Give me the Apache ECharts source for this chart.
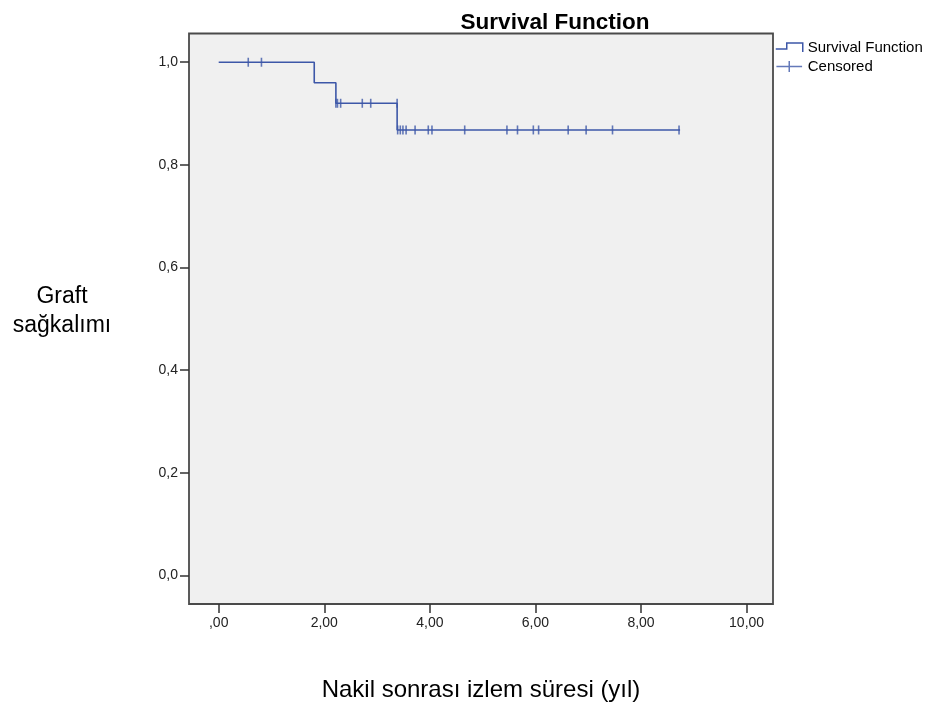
<!DOCTYPE html>
<html>
<head>
<meta charset="utf-8">
<script src="https://cdn.jsdelivr.net/npm/echarts@6/dist/echarts.min.js"></script>
<style>
html,body{margin:0;padding:0;background:#fff;}
#chart{width:929px;height:702px;}
</style>
</head>
<body>
<div id="chart"></div>
<script>
// Kaplan-Meier step points: time (years) and survival level
const stepTimes = [0, 1.81, 2.22, 3.38, 8.74];
const stepLevels = [1.0, 0.96, 0.92, 0.868, 0.868];
// Censored observations
const censoredTimes = [0.56, 0.81, 2.22, 2.25, 2.31, 2.72, 2.88, 3.38,
  3.39, 3.44, 3.49, 3.55, 3.72, 3.97, 4.04, 4.66, 5.46, 5.66, 5.96, 6.06, 6.62, 6.96, 7.46, 8.72];
const censoredLevels = [1.0, 1.0, 0.92, 0.92, 0.92, 0.92, 0.92, 0.92,
  0.868, 0.868, 0.868, 0.868, 0.868, 0.868, 0.868, 0.868, 0.868, 0.868, 0.868, 0.868, 0.868, 0.868, 0.868, 0.868];
const xTicks = [0, 2, 4, 6, 8, 10];
const yTicks = [0, 0.2, 0.4, 0.6, 0.8, 1.0];

const BLUE = '#3d57a8';
const FONT = 'Liberation Sans, Arial, sans-serif';

const chart = echarts.init(document.getElementById('chart'));
const stepData = stepTimes.map((t, i) => [t, stepLevels[i]]);
const censData = censoredTimes.map((t, i) => [t, censoredLevels[i]]);

chart.setOption({
  animation: false,
  backgroundColor: '#ffffff',
  title: {
    text: 'Survival Function',
    left: 550, top: 6, textAlign: 'center',
    textStyle: {fontFamily: FONT, fontSize: 22.5, fontWeight: 'bold', color: '#000'}
  },
  legend: {
    orient: 'vertical', left: 775, top: 40, itemGap: 4, padding: 0,
    itemWidth: 27, itemHeight: 11,
    textStyle: {fontFamily: FONT, fontSize: 15, color: '#000'},
    data: [
      {name: 'Survival Function', icon: 'path://M0,6 L11,6 L11,0 L27,0 L27,9',
       itemStyle: {color: 'transparent', borderColor: BLUE, borderWidth: 1.5}},
      {name: 'Censored', icon: 'path://M0,6 L28,6 M14,0 L14,12',
       itemStyle: {color: 'transparent', borderColor: BLUE, borderWidth: 1.5}}
    ]
  },
  grid: {
    left: 189, top: 33.5, width: 584, height: 570.5,
    show: true, backgroundColor: '#f0f0f0', borderColor: '#4a4a4a', borderWidth: 1.8
  },
  xAxis: {
    type: 'value', min: -0.5625, max: 10.5,
    axisLine: {show: false, onZero: false},
    splitLine: {show: false},
    axisTick: {show: true, customValues: xTicks, length: 9, lineStyle: {color: '#333', width: 1.5}},
    axisLabel: {
      customValues: xTicks, margin: 12,
      fontFamily: FONT, fontSize: 14, color: '#222',
      formatter: v => v === 0 ? ',00' : v.toFixed(2).replace('.', ',')
    }
  },
  yAxis: {
    type: 'value', min: -0.056, max: 1.056,
    axisLine: {show: false, onZero: false},
    splitLine: {show: false},
    axisTick: {show: true, customValues: yTicks, length: 9, lineStyle: {color: '#333', width: 1.5}},
    axisLabel: {
      customValues: yTicks, margin: 11,
      fontFamily: FONT, fontSize: 14, color: '#222',
      formatter: v => v.toFixed(1).replace('.', ',')
    }
  },
  graphic: [
    {type: 'text', x: 62, y: 297,
     style: {text: 'Graft', font: '23px ' + FONT, fill: '#000', align: 'center', verticalAlign: 'middle'}},
    {type: 'text', x: 62, y: 326,
     style: {text: 'sağkalımı', font: '23px ' + FONT, fill: '#000', align: 'center', verticalAlign: 'middle'}},
    {type: 'text', x: 481, y: 690,
     style: {text: 'Nakil sonrası izlem süresi (yıl)', font: '24px ' + FONT, fill: '#000', align: 'center', verticalAlign: 'middle'}}
  ],
  series: [
    {
      name: 'Survival Function', type: 'line', step: 'end',
      data: stepData, showSymbol: false, symbol: 'none',
      lineStyle: {color: BLUE, width: 1.6},
      itemStyle: {color: BLUE}
    },
    {
      name: 'Censored', type: 'scatter',
      data: censData, symbol: 'rect', symbolSize: [1.6, 9],
      itemStyle: {color: BLUE}
    }
  ]
});
</script>
</body>
</html>
